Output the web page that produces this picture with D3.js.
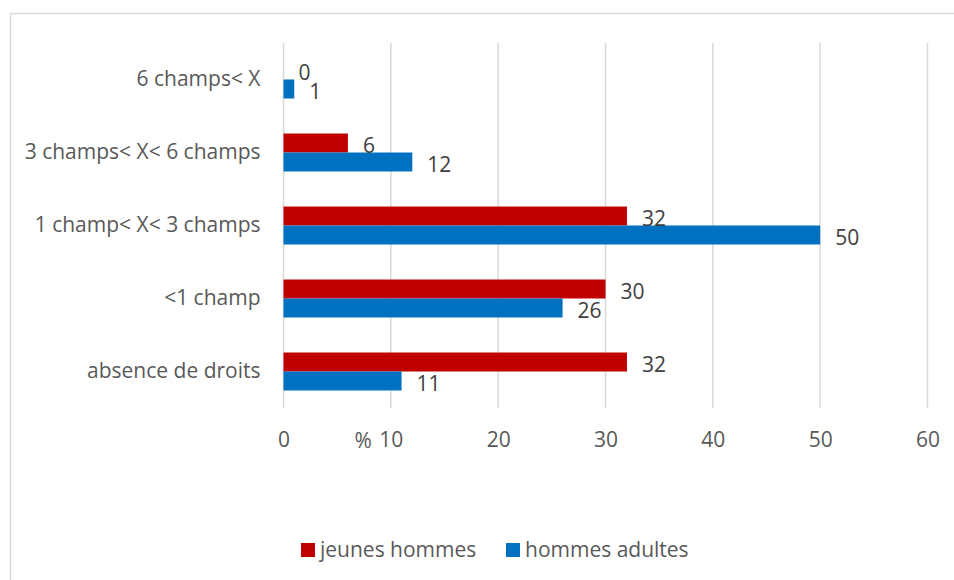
<!DOCTYPE html>
<html>
<head>
<meta charset="utf-8">
<script src="https://cdn.jsdelivr.net/npm/d3@7"></script>
<style>
  html, body { margin: 0; padding: 0; background: #fff; }
  svg { display: block; }
  text { font-family: "Open Sans", Lato, sans-serif; }
</style>
</head>
<body>
<svg id="chart" width="954" height="580"></svg>
<script>
// Categories, top to bottom
const categories = [
  "6 champs< X",
  "3 champs< X< 6 champs",
  "1 champ< X< 3 champs",
  "<1 champ",
  "absence de droits"
];
const seriesNames = ["jeunes hommes", "hommes adultes"];
const jeunesHommes = [0, 6, 32, 30, 32];
const hommesAdultes = [1, 12, 50, 26, 11];
const xTicks = [0, 10, 20, 30, 40, 50, 60];
const axisTitle = "%";

const colors = { "jeunes hommes": "#C00000", "hommes adultes": "#0070C0" };
const seriesValues = { "jeunes hommes": jeunesHommes, "hommes adultes": hommesAdultes };

const svg = d3.select("#chart");
const FONT = 21;
const FAMILY = "'Open Sans', Lato, sans-serif";

// Chart frame (only top/left visible inside the window)
svg.append("rect")
  .attr("x", 10.5).attr("y", 13.5)
  .attr("width", 1000).attr("height", 1000)
  .attr("fill", "none").attr("stroke", "#d9d9d9").attr("stroke-width", 1.5);

const plot = { left: 283.5, right: 927.5, top: 43, bottom: 408 };

const x = d3.scaleLinear().domain([0, 60]).range([plot.left, plot.right]);
const y = d3.scaleBand().domain(categories)
  .range([plot.top, plot.bottom]).paddingInner(0.48).paddingOuter(0.24);
const ySub = d3.scaleBand().domain(seriesNames).range([0, y.bandwidth()]);

// Vertical gridlines
svg.append("g").selectAll("line").data(xTicks).join("line")
  .attr("x1", d => x(d)).attr("x2", d => x(d))
  .attr("y1", plot.top).attr("y2", plot.bottom)
  .attr("stroke", "#d9d9d9").attr("stroke-width", 1.5);

// Bottom axis labels
const xAxis = d3.axisBottom(x).tickValues(xTicks).tickSize(0).tickPadding(0);
const gx = svg.append("g").attr("transform", `translate(0,${plot.bottom})`).call(xAxis);
gx.select(".domain").remove();
gx.selectAll("text")
  .attr("dy", null).attr("y", 38.5)
  .attr("font-size", FONT).attr("font-family", FAMILY)
  .attr("fill", "#595959");

svg.append("text")
  .attr("x", x(10) - 19).attr("y", plot.bottom + 40)
  .attr("text-anchor", "end")
  .attr("font-size", FONT).attr("fill", "#595959")
  .text(axisTitle);

// Category labels
const gy = svg.append("g").attr("transform", `translate(${plot.left},0)`)
  .call(d3.axisLeft(y).tickSize(0).tickPadding(23));
gy.select(".domain").remove();
gy.selectAll("text")
  .attr("font-size", FONT).attr("font-family", FAMILY)
  .attr("fill", "#595959");

// Bars and value labels
const rows = categories.map((c, i) => ({
  cat: c,
  vals: seriesNames.map(s => ({ s, v: seriesValues[s][i] }))
}));

const grp = svg.append("g").selectAll("g").data(rows).join("g")
  .attr("transform", d => `translate(0,${y(d.cat)})`);

grp.selectAll("rect").data(d => d.vals).join("rect")
  .attr("x", x(0))
  .attr("y", d => ySub(d.s))
  .attr("width", d => x(d.v) - x(0))
  .attr("height", ySub.bandwidth())
  .attr("fill", d => colors[d.s]);

grp.selectAll("text").data(d => d.vals).join("text")
  .attr("x", d => x(d.v) + 15)
  .attr("y", d => ySub(d.s) + ySub.bandwidth() / 2 + 2)
  .attr("dominant-baseline", "central")
  .attr("font-size", FONT).attr("fill", "#404040")
  .text(d => d.v);

// Legend
const legend = svg.append("g");
const legendX = [301, 506];
seriesNames.forEach((s, i) => {
  legend.append("rect")
    .attr("x", legendX[i]).attr("y", 543)
    .attr("width", 14).attr("height", 14)
    .attr("fill", colors[s]);
  legend.append("text")
    .attr("x", legendX[i] + 19).attr("y", 557)
    .attr("font-size", FONT).attr("fill", "#595959")
    .text(s);
});
</script>
</body>
</html>
